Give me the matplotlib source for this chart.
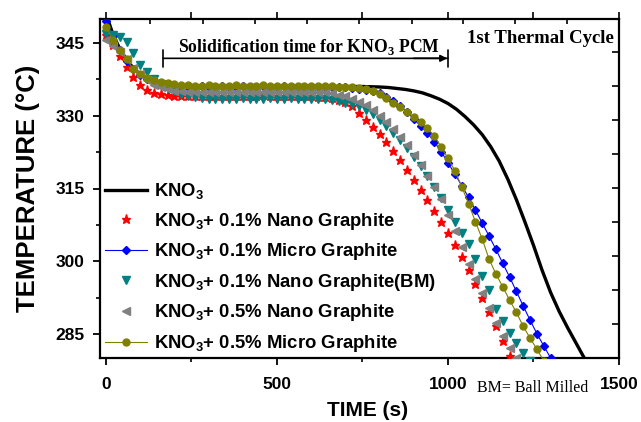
import numpy as np
import matplotlib
matplotlib.use("Agg")
import matplotlib.pyplot as plt

plt.rcParams['font.family'] = ['Liberation Sans', 'DejaVu Sans']
plt.rcParams['mathtext.fontset'] = 'custom'
plt.rcParams['mathtext.rm'] = 'Liberation Sans'
plt.rcParams['mathtext.bf'] = 'Liberation Sans:bold'
plt.rcParams['mathtext.sf'] = 'Liberation Serif:bold'

# ---------------- data ----------------
labels = [r'KNO$_\mathbf{3}$',
          r'KNO$_\mathbf{3}$+ 0.1% Nano Graphite',
          r'KNO$_\mathbf{3}$+ 0.1% Micro Graphite',
          r'KNO$_\mathbf{3}$+ 0.1% Nano Graphite(BM)',
          r'KNO$_\mathbf{3}$+ 0.5% Nano Graphite',
          r'KNO$_\mathbf{3}$+ 0.5% Micro Graphite']

kno3_t = [0, 20, 40, 60, 80, 100, 125, 150, 175, 200, 300, 400, 500, 600, 700, 750,
          800, 825, 850, 875, 900, 925, 950, 975, 1000, 1025, 1050, 1075, 1100, 1125,
          1150, 1175, 1200, 1225, 1250, 1275, 1300, 1325, 1350, 1375, 1400]
kno3_T = [351.0, 346.8, 343.8, 341.5, 339.8, 338.5, 337.5, 336.9, 336.5, 336.3, 336.1, 336.1,
          336.1, 336.1, 336.0, 336.0,
          335.9, 335.8, 335.6, 335.4, 335.1, 334.7, 334.1, 333.4, 332.5, 331.3, 329.8, 328.1,
          326.1, 323.6, 320.6, 316.9, 312.7, 308.1, 303.3, 298.2, 293.6, 289.7, 286.3, 283.1,
          279.9]

sample_step = 20  # s between recorded points

nano01_T = [346.6, 344.5, 342.3, 340.0, 338.0, 336.4, 335.3, 334.7, 334.4, 334.2,
            334.1, 334.0, 334.1, 334.0, 334.1, 334.1, 334.0, 334.1, 334.1, 334.1,
            334.1, 334.1, 334.1, 334.2, 334.1, 334.1, 334.1, 334.1, 334.0, 334.0,
            334.0, 333.9, 333.8, 333.6, 333.3, 332.8, 331.9, 330.6, 329.2, 327.7,
            326.2, 324.5, 322.7, 320.8, 318.8, 316.8, 314.7, 312.6, 310.4, 308.1,
            305.8, 303.4, 300.9, 298.2, 295.4, 292.4, 289.5, 286.6, 283.6, 280.6]

micro01_T = [349.5, 346.3, 343.5, 341.3, 339.6, 338.4, 337.5, 336.9, 336.5, 336.3,
             336.1, 336.0, 336.0, 336.0, 336.1, 336.0, 336.0, 336.1, 336.0, 336.0,
             336.1, 336.0, 336.0, 336.1, 336.0, 336.0, 336.1, 336.0, 336.0, 336.0,
             336.0, 336.0, 336.0, 335.9, 335.9, 335.8, 335.7, 335.5, 335.3, 335.0,
             334.6, 333.9, 333.0, 332.0, 330.8, 329.3, 327.9, 326.4, 324.6, 322.6,
             320.3, 318.0, 315.6, 313.2, 310.6, 307.9, 305.2, 302.5, 299.6, 296.8,
             293.8, 290.8, 287.9, 285.1, 282.6, 280.1]

nanoBM_T = [346.8, 346.6, 346.2, 345.2, 342.8, 340.4, 338.9, 337.6, 336.6, 335.7,
            335.0, 334.5, 334.1, 333.8, 333.6, 333.5, 333.4, 333.5, 333.4, 333.5,
            333.6, 333.5, 333.4, 333.5, 333.6, 333.5, 333.5, 333.6, 333.5, 333.5,
            333.5, 333.4, 333.4, 333.3, 333.0, 332.7, 332.3, 331.9, 331.2, 330.3,
            329.2, 327.9, 326.5, 325.0, 323.4, 321.5, 319.6, 317.5, 315.3, 313.0,
            310.6, 308.2, 305.8, 303.6, 300.4, 297.0, 294.0, 290.2, 287.7, 285.3,
            283.1, 281.2, 279.4]

nano05_T = [345.6, 344.4, 343.2, 341.6, 339.9, 338.5, 337.3, 336.4, 335.8, 335.4,
            335.1, 335.0, 334.9, 334.9, 334.8, 334.9, 334.9, 334.8, 334.9, 334.9,
            334.9, 334.8, 334.9, 334.9, 334.9, 334.8, 334.9, 334.9, 334.9, 334.9,
            334.8, 334.8, 334.8, 334.6, 334.3, 334.0, 333.5, 332.9, 332.1, 331.1,
            330.0, 328.7, 327.3, 325.7, 323.9, 322.0, 319.9, 317.6, 315.3, 312.8,
            309.5, 306.3, 302.9, 299.5, 296.4, 293.4, 290.4, 287.4, 284.6, 282.2,
            280.1]

micro05_T = [348.3, 345.6, 343.6, 341.6, 339.6, 338.5, 337.8, 337.3, 337.0, 336.8,
             336.6, 336.4, 336.3, 336.2, 336.2, 336.3, 336.2, 336.2, 336.2, 336.3,
             336.2, 336.2, 336.2, 336.3, 336.2, 336.2, 336.2, 336.2, 336.2, 336.2,
             336.2, 336.2, 336.1, 336.1, 336.0, 336.0, 335.9, 335.7, 335.4, 335.0,
             334.4, 333.6, 332.7, 331.8, 330.8, 329.7, 328.6, 327.4, 325.8, 323.6,
             321.2, 318.7, 315.4, 311.9, 308.2, 304.6, 300.5, 297.4, 294.8, 292.0,
             289.5, 286.6, 284.2, 281.9, 279.5]

x_ticks = [0, 500, 1000, 1500]
y_ticks = [285, 300, 315, 330, 345]


def times(vals):
    return np.arange(len(vals)) * sample_step


# ---------------- figure ----------------
fig = plt.figure(figsize=(6.41, 4.22), dpi=100)
ax = fig.add_axes([100 / 641, 1 - 358 / 422, 519 / 641, 339 / 422])

h0, = ax.plot(kno3_t, kno3_T, color='black', lw=2.4, zorder=2)
h1, = ax.plot(times(nano01_T), nano01_T, ls='none', marker='*', ms=6.5,
              color='#ff0000', mec='#ff0000', zorder=3)
h2, = ax.plot(times(micro01_T), micro01_T, ls='-', lw=0.8, marker='D', ms=4.5,
              color='#0000ff', mec='#0000ff', zorder=3)
h3, = ax.plot(times(nanoBM_T), nanoBM_T, ls='none', marker='v', ms=6,
              color='#008080', mec='#008080', zorder=3)
h4, = ax.plot(times(nano05_T), nano05_T, ls='none', marker='<', ms=6,
              color='#808080', mec='#808080', zorder=3)
h5, = ax.plot(times(micro05_T), micro05_T, ls='-', lw=0.8, marker='o', ms=5,
              color='#808000', mec='#808000', zorder=3)

ax.set_xlim(-17.5, 1500)
ax.set_ylim(280.1, 349.9)

for s in ax.spines.values():
    s.set_linewidth(1.6)

ax.set_xticks(x_ticks)
ax.set_yticks(y_ticks)
ax.set_xticks([250, 750, 1250], minor=True)
ax.set_yticks([292.5, 307.5, 322.5, 337.5], minor=True)
ax.tick_params(which='major', direction='out', length=5, width=1.3,
               labelsize=12.5)
ax.tick_params(axis='x', which='major', pad=8.5)
ax.tick_params(axis='y', which='major', pad=6)
ax.tick_params(which='minor', direction='out', length=3, width=1.2)
for lab in ax.get_xticklabels() + ax.get_yticklabels():
    lab.set_fontweight('bold')

# top axis (outward ticks) and inner ticks on top/right
top = ax.secondary_xaxis('top')
top.set_xticks([0, 250, 500, 750, 1000, 1250, 1500])
top.tick_params(direction='out', length=5, width=1.2, labeltop=False)
top.spines['top'].set_visible(False)

top_in = ax.twiny()
top_in.set_xlim(ax.get_xlim())
top_in.set_xticks([128.7, 283.6, 435.7, 587.7, 739.8, 894.7, 1043.8, 1195.9, 1348.0])
top_in.tick_params(direction='in', length=3.5, width=1.2, labeltop=False)
for s in top_in.spines.values():
    s.set_visible(False)

right_in = ax.twinx()
right_in.set_ylim(ax.get_ylim())
right_in.set_yticks([343.2, 336.2, 329.2, 322.2, 315.2, 308.2, 301.2, 294.2, 287.2])
right_in.tick_params(direction='in', length=5, width=1.2, labelright=False)
for s in right_in.spines.values():
    s.set_visible(False)

ax.set_xlabel('TIME (s)', fontsize=15, fontweight='bold')
ax.xaxis.set_label_coords(0.516, -0.128)
ax.set_ylabel('TEMPERATURE (°C)', fontsize=18.5, fontweight='bold')
ax.yaxis.set_label_coords(-0.115, 0.5)

leg = ax.legend([h0, h1, h2, h3, h4, h5], labels, loc='upper left',
                bbox_to_anchor=(0.0096, 0.522), frameon=False, borderpad=0,
                borderaxespad=0, handlelength=2.3, handletextpad=0.35,
                labelspacing=0.52, prop={'size': 13.3, 'weight': 'bold'})

# annotations
ax.annotate('', xy=(1000, 341.8), xytext=(167, 341.8),
            arrowprops=dict(arrowstyle='|-|', lw=1.2, color='black',
                            mutation_scale=6, shrinkA=0, shrinkB=0))
ax.annotate('', xy=(998, 341.8), xytext=(900, 341.8),
            arrowprops=dict(arrowstyle='-|>', lw=1.2, color='black',
                            mutation_scale=10, shrinkA=0, shrinkB=0))
ax.text(593, 342.1, r'Solidification time for KNO$_\mathsf{3}$ PCM',
        family='Liberation Serif', fontweight='bold', fontsize=12.7,
        ha='center', va='bottom')
ax.text(0.99, 0.967, '1st Thermal Cycle', transform=ax.transAxes,
        family='Liberation Serif', fontweight='bold', fontsize=13.5,
        ha='right', va='top')
fig.text(533 / 641, 1 - 388 / 422, 'BM= Ball Milled', family='Liberation Serif',
         fontsize=11.5, ha='center', va='center')

fig.savefig('out.png', dpi=100)
